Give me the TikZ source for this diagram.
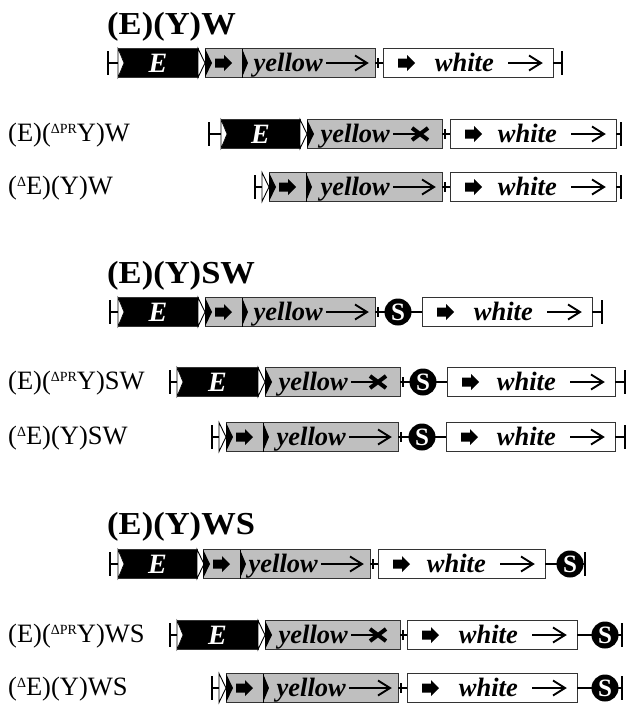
\documentclass[tikz,border=0pt]{standalone}
\usepackage{fontspec}
\setmainfont{Liberation Serif}
\newcommand{\Endbar}[3]{\coordinate (#1) at (#2,#3); \draw[endbar] ({#2},{#3-12}) -- ({#2},{#3+12});}
\newcommand{\Blkarrow}[2]{\fill ({#1},{#2-4.5}) -- ({#1+9},{#2-4.5}) -- ({#1+9},{#2-8}) -- ({#1+17},#2) -- ({#1+9},{#2+8}) -- ({#1+9},{#2+4.5}) -- ({#1},{#2+4.5}) -- cycle;}
\newcommand{\Txtarrow}[3]{\draw[line width=1.4pt] ({#1},#3) -- ({#2},#3); \draw[line width=1.9pt, line join=miter] ({#2-12},{#3-7.5}) -- ({#2},#3) -- ({#2-12},{#3+7.5});}
\newcommand{\Eblk}[4]{%
  \node[ebox, minimum width={(#3-#2)*1pt}] (#1) at ({(#2+#3)/2},#4) {E};
  \filldraw[fill=white, draw=black, line width=0.6pt] ({#2},{#4-14.5}) -- ({#2+6},#4) -- ({#2},{#4+14.5}) -- cycle;
  \filldraw[fill=white, draw=black, line width=0.9pt] ({#3},{#4-14.5}) -- ({#3+7},#4) -- ({#3},{#4+14.5}) -- cycle;}
\newcommand{\Otri}[3]{\filldraw[fill=white, draw=black, line width=0.9pt] ({#2},{#3-14.5}) -- ({#2+7},#3) -- ({#2},{#3+14.5}) -- cycle; \coordinate (#1) at (#2,#3);}
\newcommand{\Yfull}[4]{%
  \node[ybox, minimum width={(#3-#2)*1pt}] (#1) at ({(#2+#3)/2},#4) {};
  \fill ({#2},{#4-14.5}) -- ({#2+7},#4) -- ({#2},{#4+14.5}) -- cycle;
  \Blkarrow{#2+10}{#4}
  \draw[line width=0.9pt] ({#2+37},{#4-14.5}) -- ({#2+37},{#4+14.5});
  \fill ({#2+37},{#4-14.5}) -- ({#2+43},#4) -- ({#2+37},{#4+14.5}) -- cycle;
  \node[gtxt] at ({#3-52},{#4+8}) {yellow};
  \Txtarrow{#3-49}{#3-8}{#4}}
\newcommand{\Ypr}[4]{%
  \node[ybox, minimum width={(#3-#2)*1pt}] (#1) at ({(#2+#3)/2},#4) {};
  \fill ({#2},{#4-14.5}) -- ({#2+7},#4) -- ({#2},{#4+14.5}) -- cycle;
  \node[gtxt] at ({#3-52},{#4+8}) {yellow};
  \draw[line width=1.4pt] ({#3-49},#4) -- ({#3-24},#4);
  \draw[line width=4pt] ({#3-30},{#4-6}) -- ({#3-14},{#4+6}) ({#3-30},{#4+6}) -- ({#3-14},{#4-6});}
\newcommand{\Wbox}[4]{%
  \node[wbox, minimum width={(#3-#2)*1pt}] (#1) at ({(#2+#3)/2},#4) {};
  \Blkarrow{#2+15}{#4}
  \node[gtxt] at ({#3-59},{#4+8}) {white};
  \Txtarrow{#3-45}{#3-12}{#4}}
\newcommand{\Tck}[2]{\draw[line width=1.2pt] ({#1},{#2-5}) -- ({#1},{#2+5});}
\newcommand{\Dsup}{\raisebox{8pt}{\fontsize{14}{14}\selectfont Δ}}
\newcommand{\Dprsup}{\raisebox{8pt}{\fontsize{14}{14}\selectfont ΔPR}}
\begin{document}
\begin{tikzpicture}[x=1pt,y=-1pt,
  bx/.style={draw=black!80, line width=0.9pt, minimum height=29pt, inner sep=0pt, outer sep=0pt},
  ebox/.style={bx, fill=black, text=white, font=\fontsize{28}{28}\selectfont\bfseries\itshape},
  ybox/.style={bx, fill=black!25},
  wbox/.style={bx, fill=white},
  gtxt/.style={font=\fontsize{26.5}{26.5}\selectfont\bfseries\itshape, inner sep=0pt, anchor=base east},
  ttl/.style={font=\fontsize{32}{32}\selectfont\bfseries, inner sep=0pt, anchor=base west, xscale=1.08},
  lbl/.style={font=\fontsize{26.5}{26.5}\selectfont, inner sep=0pt, anchor=base west},
  sdot/.style={circle, fill=black, minimum size=27pt, inner sep=0pt, outer sep=0pt, text=white, font=\fontsize{25}{25}\selectfont\bfseries},
  con/.style={line width=1.3pt},
  endbar/.style={line width=1.8pt}]
\useasboundingbox (0,0) rectangle (633,707);

% ---------- Section 1 ----------
\node[ttl] (t1) at (107,34) {(E)(Y)W};
% Row A
\Endbar{lA}{108}{63}
\Eblk{eA}{118}{198}{63}
\Yfull{yA}{205}{375}{63}
\Tck{378}{63}
\Wbox{wA}{383}{553}{63}
\Endbar{rA}{562}{63}
\draw[con] (lA) -- (eA.west);
\draw[con] (yA.east) -- (wA.west);
\draw[con] (wA.east) -- (rA);
% Row B
\node[lbl] (lbB) at (8,141) {(E)(\Dprsup Y)W};
\Endbar{lB}{209}{134}
\Eblk{eB}{221}{300}{134}
\Ypr{yB}{307}{442}{134}
\Tck{445}{134}
\Wbox{wB}{450}{616}{134}
\Endbar{rB}{621}{134}
\draw[con] (lB) -- (eB.west);
\draw[con] (yB.east) -- (wB.west);
\draw[con] (wB.east) -- (rB);
% Row C
\node[lbl] (lbC) at (8,194) {(\Dsup E)(Y)W};
\Endbar{lC}{255}{187}
\Otri{oC}{262}{187}
\Yfull{yC}{269}{442}{187}
\Tck{445}{187}
\Wbox{wC}{450}{616}{187}
\Endbar{rC}{621}{187}
\draw[con] (lC) -- (oC);
\draw[con] (yC.east) -- (wC.west);
\draw[con] (wC.east) -- (rC);

% ---------- Section 2 ----------
\node[ttl] (t2) at (107,283) {(E)(Y)SW};
% Row D
\Endbar{lD}{110}{312}
\Eblk{eD}{118}{198}{312}
\Yfull{yD}{205}{375}{312}
\Wbox{wD}{422}{592}{312}
\Endbar{rD}{602}{312}
\draw[con] (lD) -- (eD.west);
\draw[con] (yD.east) -- (wD.west);
\Tck{378}{312}
\node[sdot] (sD) at (398,312) {S};
\draw[con] (wD.east) -- (rD);
% Row E
\node[lbl] (lbE) at (8,389) {(E)(\Dprsup Y)SW};
\Endbar{lE}{170}{382}
\Eblk{eE}{177}{258}{382}
\Ypr{yE}{265}{400}{382}
\Wbox{wE}{447}{615}{382}
\Endbar{rE}{625}{382}
\draw[con] (lE) -- (eE.west);
\draw[con] (yE.east) -- (wE.west);
\Tck{403}{382}
\node[sdot] (sE) at (423,382) {S};
\draw[con] (wE.east) -- (rE);
% Row F
\node[lbl] (lbF) at (8,444) {(\Dsup E)(Y)SW};
\Endbar{lF}{212}{437}
\Otri{oF}{219}{437}
\Yfull{yF}{226}{398}{437}
\Wbox{wF}{446}{615}{437}
\Endbar{rF}{625}{437}
\draw[con] (lF) -- (oF);
\draw[con] (yF.east) -- (wF.west);
\Tck{401}{437}
\node[sdot] (sF) at (422,437) {S};
\draw[con] (wF.east) -- (rF);

% ---------- Section 3 ----------
\node[ttl] (t3) at (107,534) {(E)(Y)WS};
% Row G
\Endbar{lG}{110}{564}
\Eblk{eG}{118}{197}{564}
\Yfull{yG}{203}{370}{564}
\Tck{373}{564}
\Wbox{wG}{378}{545}{564}
\Endbar{rG}{585}{564}
\draw[con] (lG) -- (eG.west);
\draw[con] (yG.east) -- (wG.west);
\draw[con] (wG.east) -- (rG);
\node[sdot] (sG) at (570,564) {S};
% Row H
\node[lbl] (lbH) at (8,642) {(E)(\Dprsup Y)WS};
\Endbar{lH}{170}{635}
\Eblk{eH}{177}{258}{635}
\Ypr{yH}{265}{400}{635}
\Tck{403}{635}
\Wbox{wH}{407}{577}{635}
\Endbar{rH}{622}{635}
\draw[con] (lH) -- (eH.west);
\draw[con] (yH.east) -- (wH.west);
\draw[con] (wH.east) -- (rH);
\node[sdot] (sH) at (605,635) {S};
% Row I
\node[lbl] (lbI) at (8,695) {(\Dsup E)(Y)WS};
\Endbar{lI}{212}{688}
\Otri{oI}{219}{688}
\Yfull{yI}{226}{398}{688}
\Tck{401}{688}
\Wbox{wI}{407}{577}{688}
\Endbar{rI}{622}{688}
\draw[con] (lI) -- (oI);
\draw[con] (yI.east) -- (wI.west);
\draw[con] (wI.east) -- (rI);
\node[sdot] (sI) at (605,688) {S};
\end{tikzpicture}
\end{document}
